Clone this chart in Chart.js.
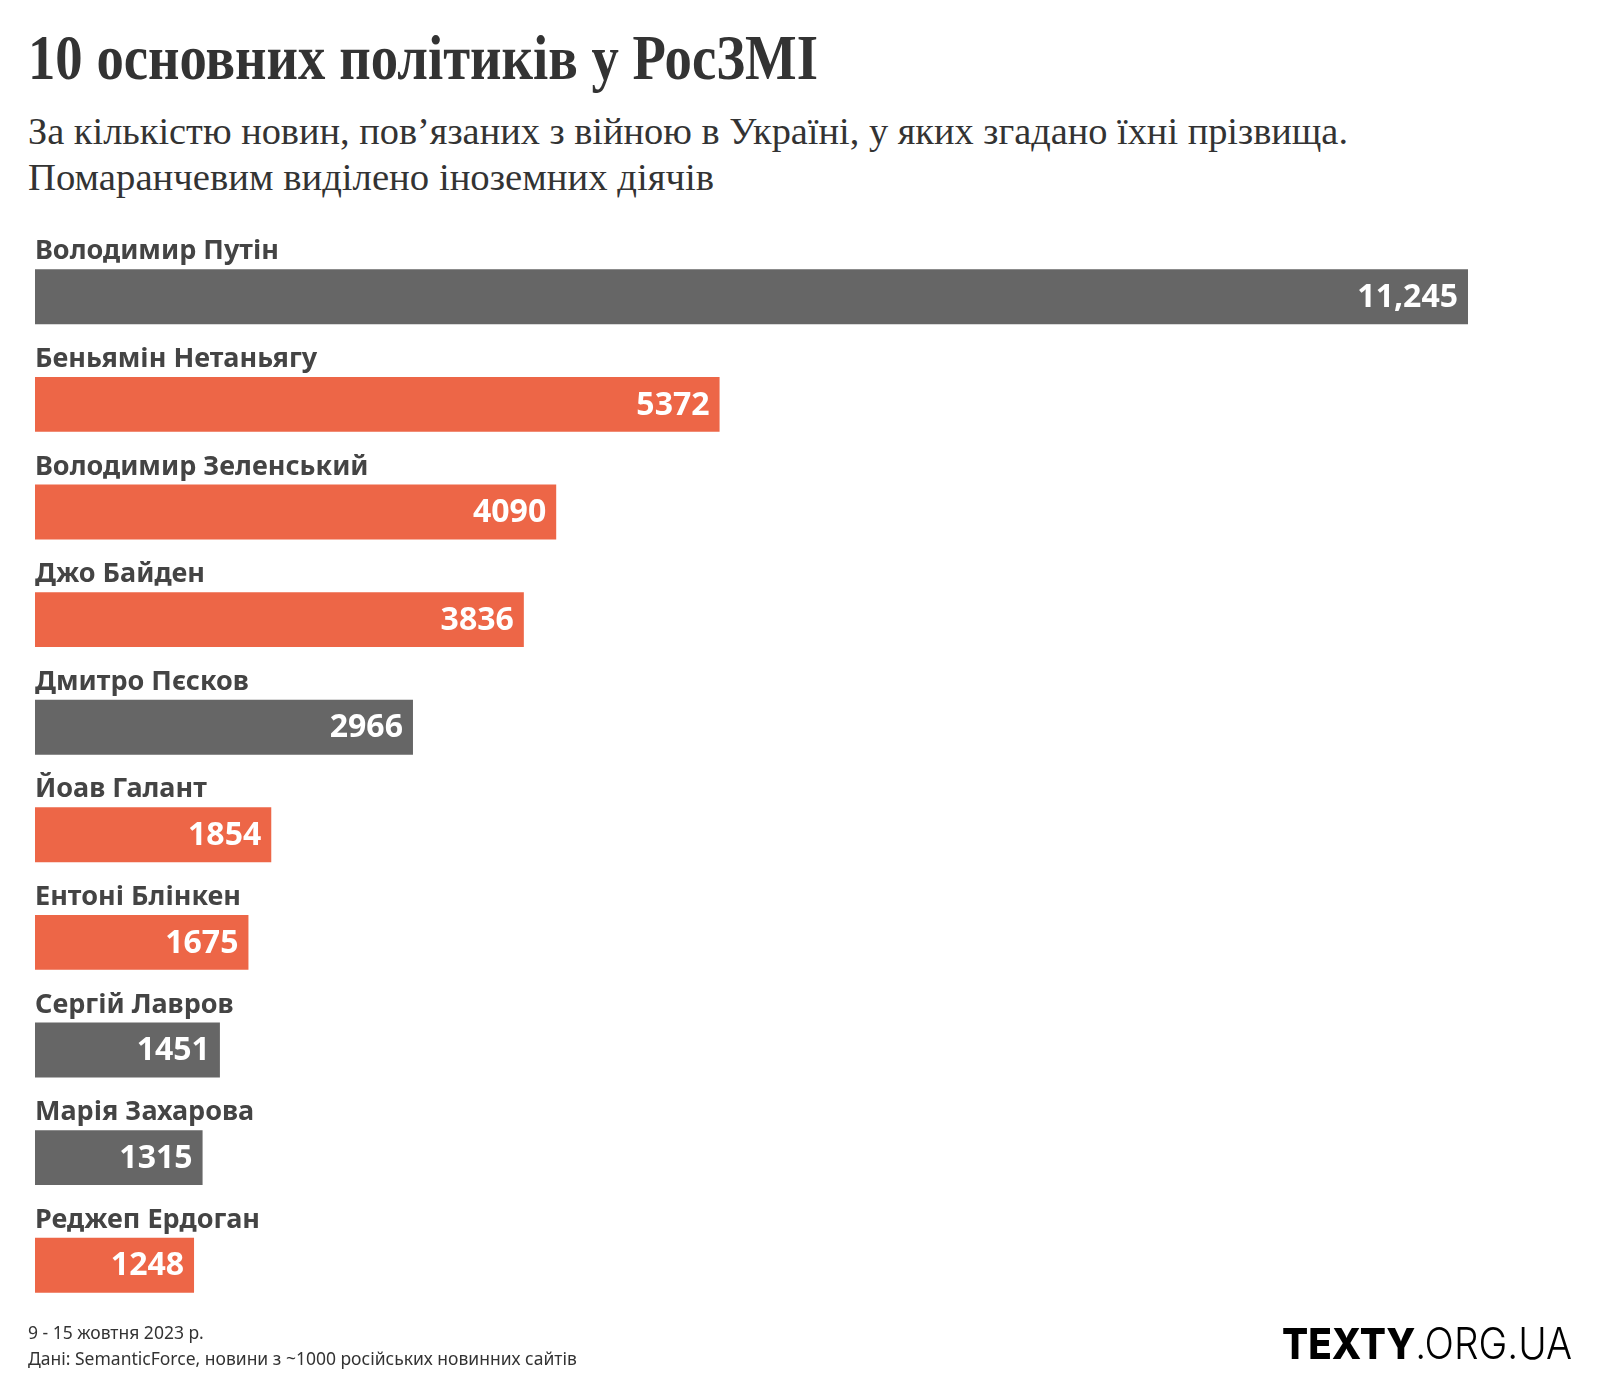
<!DOCTYPE html>
<html lang="uk">
<head>
<meta charset="utf-8">
<script src="https://cdn.jsdelivr.net/npm/chart.js@4.4.1/dist/chart.umd.min.js"></script>
<style>
  body { margin: 0; background: #fff; }
  #page { position: relative; width: 1600px; height: 1400px; overflow: hidden; }
  .fit { position: absolute; white-space: nowrap; transform-origin: 0 0; line-height: 1; }
  #title { left: 28px; top: 21px; font: bold 64px "Liberation Serif", serif; color: #333; }
  #sub1 { left: 28px; top: 109px; font: 38px "Liberation Serif", serif; color: #333; }
  #sub2 { left: 28px; top: 155px; font: 38px "Liberation Serif", serif; color: #333; }
  #chartBox { position: absolute; left: 0; top: 200px; width: 1600px; height: 1130px; }
  #footer { position: absolute; left: 28px; top: 1319px; font: 17.5px "Noto Sans", sans-serif; color: #333; line-height: 26px; }
  #logo { left: 1282px; top: 1322px; font-family: Inter, sans-serif; font-size: 43px; color: #000; }
  #logo b { font-weight: 800; }
  #logo span { font-weight: 300; }
</style>
</head>
<body>
<div id="page">
  <div id="title" class="fit" data-w="790">10 основних політиків у РосЗМІ</div>
  <div id="sub1" class="fit" data-w="1320">За кількістю новин, пов’язаних з війною в Україні, у яких згадано їхні прізвища.</div>
  <div id="sub2" class="fit" data-w="686">Помаранчевим виділено іноземних діячів</div>
  <div id="chartBox"><canvas id="politiciansChart"></canvas></div>
  <div id="footer">9 - 15 жовтня 2023 р.<br>Дані: SemanticForce, новини з ~1000 російських новинних сайтів</div>
  <div id="logo" class="fit" data-w="290"><b>TEXTY</b><span>.ORG.UA</span></div>
</div>
<script>
// Дані з графіка
const names = ['Володимир Путін', 'Беньямін Нетаньягу', 'Володимир Зеленський', 'Джо Байден', 'Дмитро Пєсков',
               'Йоав Галант', 'Ентоні Блінкен', 'Сергій Лавров', 'Марія Захарова', 'Реджеп Ердоган'];
const mentions = [11245, 5372, 4090, 3836, 2966, 1854, 1675, 1451, 1315, 1248];
// true = іноземний діяч (помаранчевий)
const foreign = [false, true, true, true, false, true, true, false, false, true];

const GREY = '#666666';
const ORANGE = '#ED6647';

// підганяємо ширину заголовків (вузький шрифт в оригіналі)
document.querySelectorAll('.fit').forEach(el => {
    const w = el.getBoundingClientRect().width;
    const target = +el.dataset.w;
    if (w > 0) el.style.transform = `scaleX(${target / w})`;
});

function formatValue(v) {
    return v >= 10000 ? v.toLocaleString('en-US') : String(v);
}

// Підписи над смугами та значення всередині
const barLabels = {
    id: 'barLabels',
    afterDatasetsDraw(chart) {
        const ctx = chart.ctx;
        const meta = chart.getDatasetMeta(0);
        ctx.save();
        meta.data.forEach((bar, i) => {
            const top = bar.y - bar.height / 2;
            ctx.font = 'bold 27px "Noto Sans", sans-serif';
            ctx.fillStyle = '#444';
            ctx.textAlign = 'left';
            ctx.textBaseline = 'alphabetic';
            ctx.fillText(names[i], bar.base, top - 10);

            ctx.font = 'bold 32px "Noto Sans", sans-serif';
            ctx.fillStyle = '#fff';
            ctx.textAlign = 'right';
            ctx.textBaseline = 'middle';
            ctx.fillText(formatValue(mentions[i]), bar.x - 10, bar.y + 1);
        });
        ctx.restore();
    }
};

new Chart(document.getElementById('politiciansChart'), {
    type: 'bar',
    data: {
        labels: names,
        datasets: [{
            data: mentions,
            backgroundColor: foreign.map(f => f ? ORANGE : GREY),
            borderWidth: 0,
            barPercentage: 0.51,
            categoryPercentage: 1
        }]
    },
    options: {
        indexAxis: 'y',
        responsive: true,
        maintainAspectRatio: false,
        animation: false,
        layout: { padding: { left: 35, right: 132, top: 43, bottom: 11 } },
        scales: {
            x: { display: false, min: 0, max: 11245 },
            y: { display: false }
        },
        plugins: {
            legend: { display: false },
            tooltip: { enabled: false }
        }
    },
    plugins: [barLabels]
});
</script>
</body>
</html>
